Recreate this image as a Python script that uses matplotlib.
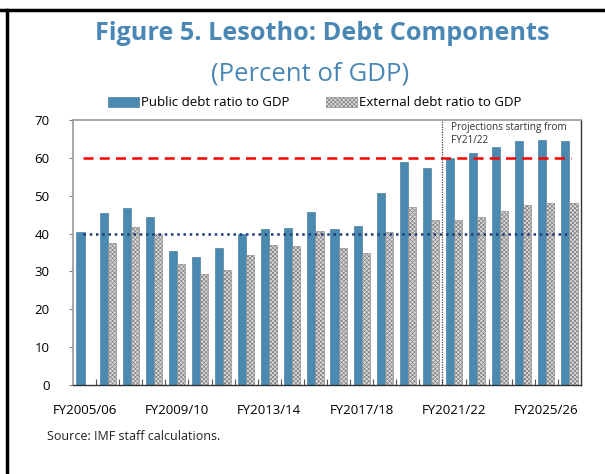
import matplotlib
matplotlib.use('Agg')
import matplotlib.pyplot as plt
import numpy as np
from matplotlib.patches import Patch
from matplotlib.lines import Line2D

plt.rcParams['font.family'] = ['Open Sans', 'DejaVu Sans']
plt.rcParams['hatch.linewidth'] = 0.5

# Fiscal years FY2005/06 .. FY2026/27
years = ["FY%d/%02d" % (y, (y + 1) % 100) for y in range(2005, 2027)]

public_debt = [40.3, 45.5, 46.7, 44.3, 35.4, 33.9, 36.1, 39.9, 41.2, 41.5, 45.6,
               41.2, 42.1, 50.8, 58.8, 57.4, 60.0, 61.4, 62.9, 64.4, 64.6, 64.4]
external_debt = [np.nan, 37.6, 41.8, 39.9, 32.0, 29.4, 30.4, 34.4, 36.9, 36.7, 40.7,
                 36.2, 35.0, 40.4, 46.9, 43.7, 43.7, 44.4, 45.9, 47.5, 48.2, 48.2]

threshold_high = 60
threshold_low = 40
projection_start = "FY2021/22"

title_color = '#4a87b5'
bar_color = '#4a8ab0'
ext_face = '#dcdcdc'
ext_edge = '#808080'

fig = plt.figure(figsize=(6.05, 4.74), dpi=100)
ax = fig.add_axes([73 / 605, 89 / 474, 508 / 605, 265 / 474])

x = np.arange(len(years))
w = 0.35
ax.bar(x - w / 2, public_debt, width=w, color=bar_color, edgecolor='#3a6f8f', linewidth=0.4)
ax.bar(x + w / 2, external_debt, width=w, color=ext_face, edgecolor=ext_edge,
       hatch='xxxxxxxx', linewidth=0.4)

# reference lines
ax.hlines(threshold_high, -0.05, len(years) - 0.95, colors='red', linestyles=(0, (4, 2.5)), linewidth=1.8)
ax.hlines(threshold_low, -0.05, len(years) - 0.95, colors='#1f3a78', linestyles=(0, (1, 1.5)), linewidth=1.8)

# projection marker
px = years.index(projection_start) - 0.5
ax.axvline(px, color='#444444', linestyle=(0, (1, 1)), linewidth=0.9)
ax.text(px + 0.35, 69.5, "Projections starting from\nFY21/22", fontsize=7.2, va='top', ha='left',
        color='#333333', linespacing=1.3)

ax.set_xlim(-0.5, len(years) - 0.5)
ax.set_ylim(0, 70)
ax.set_yticks(range(0, 71, 10))
ax.tick_params(axis='y', length=3, color='#888888', labelsize=9.5, pad=14)

ax.set_xticks(np.arange(0.5, len(years) - 1, 1))
ax.set_xticklabels([])
ax.tick_params(axis='x', which='major', direction='in', length=4, color='#555555')
ax.set_xticks(x[::4], minor=True)
ax.set_xticklabels(years[::4], minor=True)
ax.tick_params(axis='x', which='minor', length=0, labelsize=9.5, pad=14)

for side in ['top', 'left']:
    ax.spines[side].set_color('#999999')
    ax.spines[side].set_linewidth(1.2)
for side in ['right', 'bottom']:
    ax.spines[side].set_color('#333333')
    ax.spines[side].set_linewidth(1.0)

handles = [Patch(facecolor=bar_color, edgecolor='#3a6f8f', linewidth=0.4),
           Patch(facecolor=ext_face, edgecolor=ext_edge, hatch='xxxxxxxx', linewidth=0.4)]
fig.legend(handles, ["Public debt ratio to GDP", "External debt ratio to GDP"],
           loc='center', bbox_to_anchor=(315 / 605, 1 - 103 / 474), ncol=2, frameon=False,
           fontsize=9.5, handlelength=2.3, handleheight=0.8, handletextpad=0.2, columnspacing=2.8)

fig.text(322 / 605, 1 - 33 / 474, "Figure 5. Lesotho: Debt Components", ha='center', va='center',
         fontsize=18.2, fontweight='bold', color=title_color)
fig.text(310 / 605, 1 - 74 / 474, "(Percent of GDP)", ha='center', va='center',
         fontsize=18.5, color=title_color)
fig.text(47 / 605, 1 - 437 / 474, "Source: IMF staff calculations.", ha='left', va='center',
         fontsize=9, color='#222222')

# page borders
fig.add_artist(Line2D([0, 1], [1 - 10 / 474, 1 - 10 / 474], color='black', linewidth=2.5,
                      transform=fig.transFigure))
fig.add_artist(Line2D([6.5 / 605, 6.5 / 605], [0, 1 - 10 / 474], color='black', linewidth=2.5,
                      transform=fig.transFigure))

fig.savefig('out.png', dpi=100)
